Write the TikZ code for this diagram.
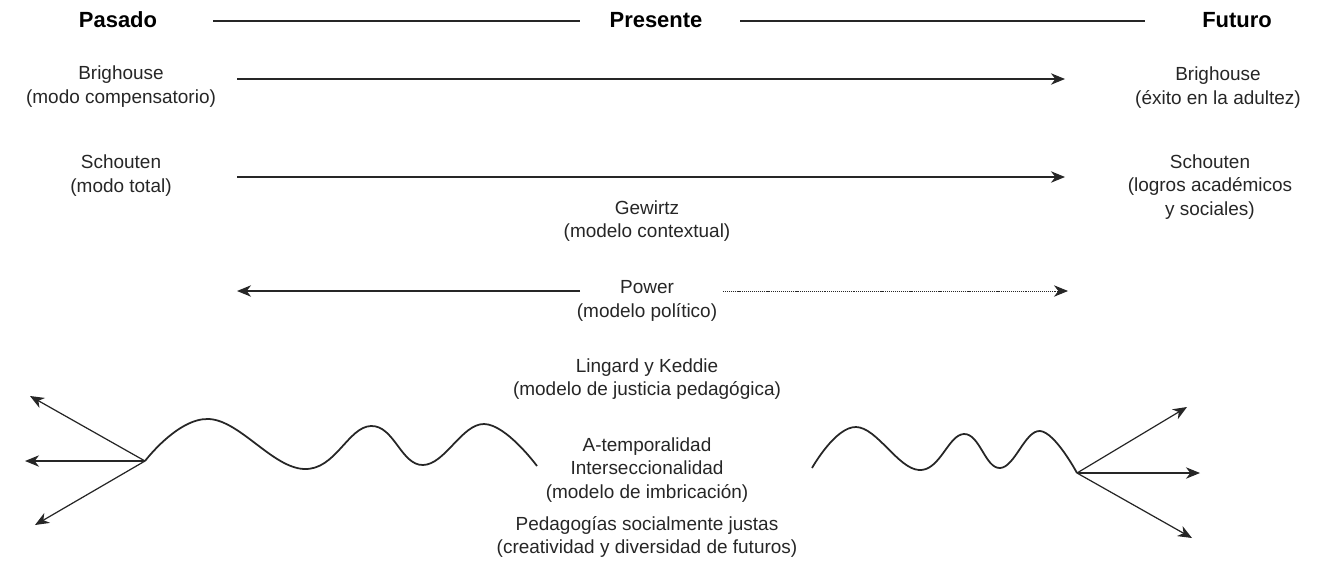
\documentclass[tikz,border=0pt]{standalone}
\usepackage{fontspec}
\setmainfont{Liberation Sans}
\usetikzlibrary{positioning,arrows.meta}

\begin{document}
\begin{tikzpicture}[x=0.02cm,y=-0.02cm,
  txt/.style={align=center,inner sep=0pt,font=\fontsize{10.8}{13.3}\selectfont,text=black!85},
  era/.style={inner sep=0pt,font=\fontsize{12.5}{14}\selectfont\bfseries},
  line/.style={line width=0.7pt,black!85},
  arr/.style={line,-{Stealth[length=8pt,width=6.5pt,inset=2.5pt]}},
  wave/.style={line width=1pt,black!85}]

  \useasboundingbox (0,0) rectangle (1317,572);

  % eras
  \node (pas) [era] at (118,20) {Pasado};
  \node (pre) [era] at (656,20) {Presente};
  \node (fut) [era] at (1237,20) {Futuro};
  \coordinate (h1) at (213,21);
  \coordinate (h2) at (580,21);
  \coordinate (h3) at (740,21);
  \coordinate (h4) at (1145,21);
  \draw[line] (h1) -- (h2);
  \draw[line] (h3) -- (h4);

  % authors
  \node (bri) [txt] at (121,86.5) {Brighouse\\(modo compensatorio)};
  \node (brf) [txt] at (1218,87.5) {Brighouse\\(éxito en la adultez)};
  \node (sch) [txt] at (121,175.5) {Schouten\\(modo total)};
  \node (scf) [txt] at (1210,187) {Schouten\\(logros académicos\\y sociales)};
  \node (gew) [txt] at (647,221) {Gewirtz\\(modelo contextual)};
  \node (pow) [txt] at (647,301) {Power\\(modelo político)};
  \node (lin) [txt] at (647,379) {Lingard y Keddie\\(modelo de justicia pedagógica)};
  \node (imb) [txt] at (647,470) {A-temporalidad\\Interseccionalidad\\(modelo de imbricación)};
  \node (ped) [txt] at (647,537) {Pedagogías socialmente justas\\(creatividad y diversidad de futuros)};

  \coordinate (b1) at (237,79);
  \coordinate (b2) at (1065,79);
  \coordinate (s1) at (237,177);
  \coordinate (s2) at (1065,177);
  \coordinate (p0) at (580,291);
  \coordinate (p1) at (237,291);
  \coordinate (p2) at (723,291);
  \coordinate (p3) at (1068,291);
  \draw[arr] (b1) -- (b2);
  \draw[arr] (s1) -- (s2);
  \draw[arr] (p0) -- (p1);
  \draw[arr,line width=0.5pt,dash pattern=on 0.6pt off 0.5pt] (p2) -- (p3);

  % waves
  \coordinate (wl) at (145,461);
  \coordinate (wr) at (1077,473);
  \draw[wave] plot[smooth,tension=0.7] coordinates
    {(wl) (209,419) (304,469) (371,426) (423,465) (484,424) (537,466)};
  \draw[wave] plot[smooth,tension=0.7] coordinates
    {(812,468) (856,427) (919,470) (964,434) (1000,468) (1040,431) (wr)};

  \coordinate (l1) at (30,396);
  \coordinate (l2) at (25,461);
  \coordinate (l3) at (35,525);
  \coordinate (r1) at (1187,407);
  \coordinate (r2) at (1200,473);
  \coordinate (r3) at (1192,538);
  \foreach \t in {l1,l2,l3} \draw[arr] (wl) -- (\t);
  \foreach \t in {r1,r2,r3} \draw[arr] (wr) -- (\t);

\end{tikzpicture}
\end{document}
